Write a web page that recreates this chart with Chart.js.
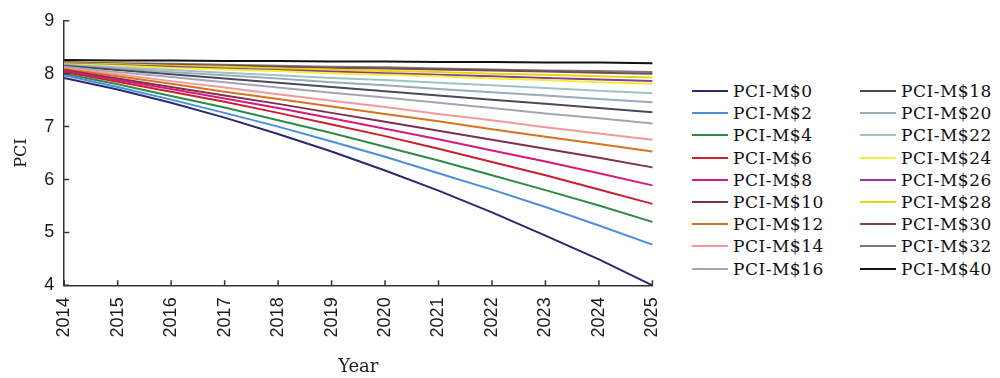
<!DOCTYPE html>
<html>
<head>
<meta charset="utf-8">
<script src="https://cdn.jsdelivr.net/npm/chart.js@4.4.1/dist/chart.umd.min.js"></script>
<style>
  html, body { margin: 0; padding: 0; background: #fff; }
  #wrap { position: relative; width: 1000px; height: 378px; overflow: hidden; }
  #box { position: absolute; left: 0; top: 0; width: 686px; height: 378px; }
  #legend {
    position: absolute; left: 692px; top: 80px;
    display: grid; grid-template-columns: 168px 160px;
    grid-template-rows: repeat(9, 22.2px); grid-auto-flow: column;
    font: 17px "DejaVu Serif"; letter-spacing: 0.5px; color: #111;
  }
  .item { display: flex; align-items: center; white-space: nowrap; }
  .swatch { width: 36px; height: 2px; margin-right: 5px; flex: none; }
</style>
</head>
<body>
<div id="wrap">
  <div id="box"><canvas id="chart"></canvas></div>
  <div id="legend"></div>
</div>
<script>
const years = ["2014","2015","2016","2017","2018","2019","2020","2021","2022","2023","2024","2025"];
const yTicks = [4, 5, 6, 7, 8, 9];

const names = ["PCI-M$0","PCI-M$2","PCI-M$4","PCI-M$6","PCI-M$8","PCI-M$10","PCI-M$12","PCI-M$14","PCI-M$16",
               "PCI-M$18","PCI-M$20","PCI-M$22","PCI-M$24","PCI-M$26","PCI-M$28","PCI-M$30","PCI-M$32","PCI-M$40"];
const colors = ["#2b2a6e","#4b8fdc","#2e8b45","#c8202e","#d6197a","#7d3050","#d8731f","#f29a9a","#a4a4b4",
                "#4a4a5c","#9aaab8","#9cc4c4","#f2ee3a","#8e3a9a","#e0dc00","#7a4652","#7a7a7a","#111111"];

const m0  = [7.92, 7.70, 7.45, 7.17, 6.86, 6.53, 6.17, 5.79, 5.38, 4.94, 4.49, 4.00];
const m2  = [7.97, 7.75, 7.51, 7.26, 7.00, 6.72, 6.43, 6.12, 5.81, 5.48, 5.13, 4.77];
const m4  = [8.00, 7.80, 7.58, 7.36, 7.12, 6.88, 6.62, 6.36, 6.08, 5.80, 5.51, 5.20];
const m6  = [8.03, 7.85, 7.66, 7.47, 7.26, 7.04, 6.82, 6.58, 6.33, 6.08, 5.81, 5.54];
const m8  = [8.05, 7.88, 7.71, 7.53, 7.35, 7.16, 6.96, 6.76, 6.55, 6.34, 6.12, 5.89];
const m10 = [8.07, 7.91, 7.75, 7.59, 7.43, 7.26, 7.09, 6.92, 6.75, 6.58, 6.41, 6.23];
const m12 = [8.09, 7.95, 7.81, 7.66, 7.52, 7.38, 7.24, 7.10, 6.95, 6.81, 6.67, 6.53];
const m14 = [8.11, 7.99, 7.86, 7.74, 7.61, 7.49, 7.37, 7.24, 7.12, 6.99, 6.87, 6.75];
const m16 = [8.13, 8.03, 7.94, 7.84, 7.74, 7.64, 7.55, 7.45, 7.35, 7.25, 7.16, 7.06];
const m18 = [8.15, 8.07, 7.99, 7.91, 7.83, 7.75, 7.67, 7.59, 7.51, 7.43, 7.35, 7.27];
const m20 = [8.16, 8.10, 8.03, 7.97, 7.91, 7.84, 7.78, 7.71, 7.65, 7.59, 7.52, 7.46];
const m22 = [8.17, 8.12, 8.07, 8.02, 7.97, 7.92, 7.88, 7.83, 7.78, 7.73, 7.68, 7.63];
const m24 = [8.18, 8.15, 8.11, 8.08, 8.05, 8.01, 7.98, 7.95, 7.91, 7.88, 7.84, 7.81];
const m26 = [8.19, 8.16, 8.13, 8.10, 8.07, 8.04, 8.01, 7.98, 7.95, 7.92, 7.89, 7.86];
const m28 = [8.20, 8.18, 8.15, 8.13, 8.10, 8.08, 8.05, 8.03, 8.00, 7.98, 7.95, 7.93];
const m30 = [8.21, 8.19, 8.17, 8.15, 8.13, 8.11, 8.10, 8.08, 8.06, 8.04, 8.02, 8.00];
const m32 = [8.22, 8.20, 8.19, 8.17, 8.15, 8.13, 8.12, 8.10, 8.08, 8.06, 8.05, 8.03];
const m40 = [8.26, 8.25, 8.25, 8.24, 8.24, 8.23, 8.23, 8.22, 8.22, 8.21, 8.21, 8.20];

const series = [m0, m2, m4, m6, m8, m10, m12, m14, m16, m18, m20, m22, m24, m26, m28, m30, m32, m40];

// small ticks pointing into the plot, like the original
const innerTicks = {
  id: "innerTicks",
  afterDraw(chart) {
    const { ctx, chartArea: a, scales: { x, y } } = chart;
    ctx.save();
    ctx.strokeStyle = "#333";
    ctx.lineWidth = 1.5;
    ctx.beginPath();
    years.forEach((yr, i) => {
      const px = x.getPixelForValue(i);
      ctx.moveTo(px, a.bottom);
      ctx.lineTo(px, a.bottom - 5);
    });
    yTicks.forEach(v => {
      const py = y.getPixelForValue(v);
      ctx.moveTo(a.left, py);
      ctx.lineTo(a.left + 5, py);
    });
    ctx.stroke();
    ctx.restore();
  }
};

const tickFont = { family: "Liberation Sans", size: 18 };

const chart = new Chart(document.getElementById("chart").getContext("2d"), {
  type: "line",
  data: {
    labels: years,
    datasets: series.map((data, i) => ({
      label: names[i],
      data,
      borderColor: colors[i],
      backgroundColor: colors[i],
      borderWidth: 2,
      pointRadius: 0,
      tension: 0,
      fill: false,
    })),
  },
  options: {
    responsive: true,
    maintainAspectRatio: false,
    animation: false,
    layout: { padding: { left: 4, top: 12, right: 0, bottom: 0 } },
    plugins: { legend: { display: false }, tooltip: { enabled: false } },
    scales: {
      x: {
        grid: { display: false, drawTicks: false },
        border: { display: true, color: "#333", width: 1.5 },
        ticks: { font: tickFont, color: "#1a1a1a", minRotation: 90, maxRotation: 90, padding: 12 },
        title: { display: true, text: "Year", font: { family: "DejaVu Serif", size: 18 }, color: "#222", padding: { top: 7, bottom: 0 } },
      },
      y: {
        min: 4,
        max: 9,
        grid: { display: false, drawTicks: false },
        border: { display: true, color: "#333", width: 1.5 },
        ticks: { stepSize: 1, font: tickFont, color: "#1a1a1a", padding: 10 },
        title: { display: true, text: "PCI", font: { family: "DejaVu Serif", size: 16 }, color: "#222", padding: { top: 8, bottom: 3 } },
      },
    },
  },
  plugins: [innerTicks],
});

const legendEl = document.getElementById("legend");
chart.data.datasets.forEach(ds => {
  const item = document.createElement("div");
  item.className = "item";
  const sw = document.createElement("span");
  sw.className = "swatch";
  sw.style.background = ds.borderColor;
  const txt = document.createElement("span");
  txt.textContent = ds.label;
  item.appendChild(sw);
  item.appendChild(txt);
  legendEl.appendChild(item);
});
</script>
</body>
</html>
